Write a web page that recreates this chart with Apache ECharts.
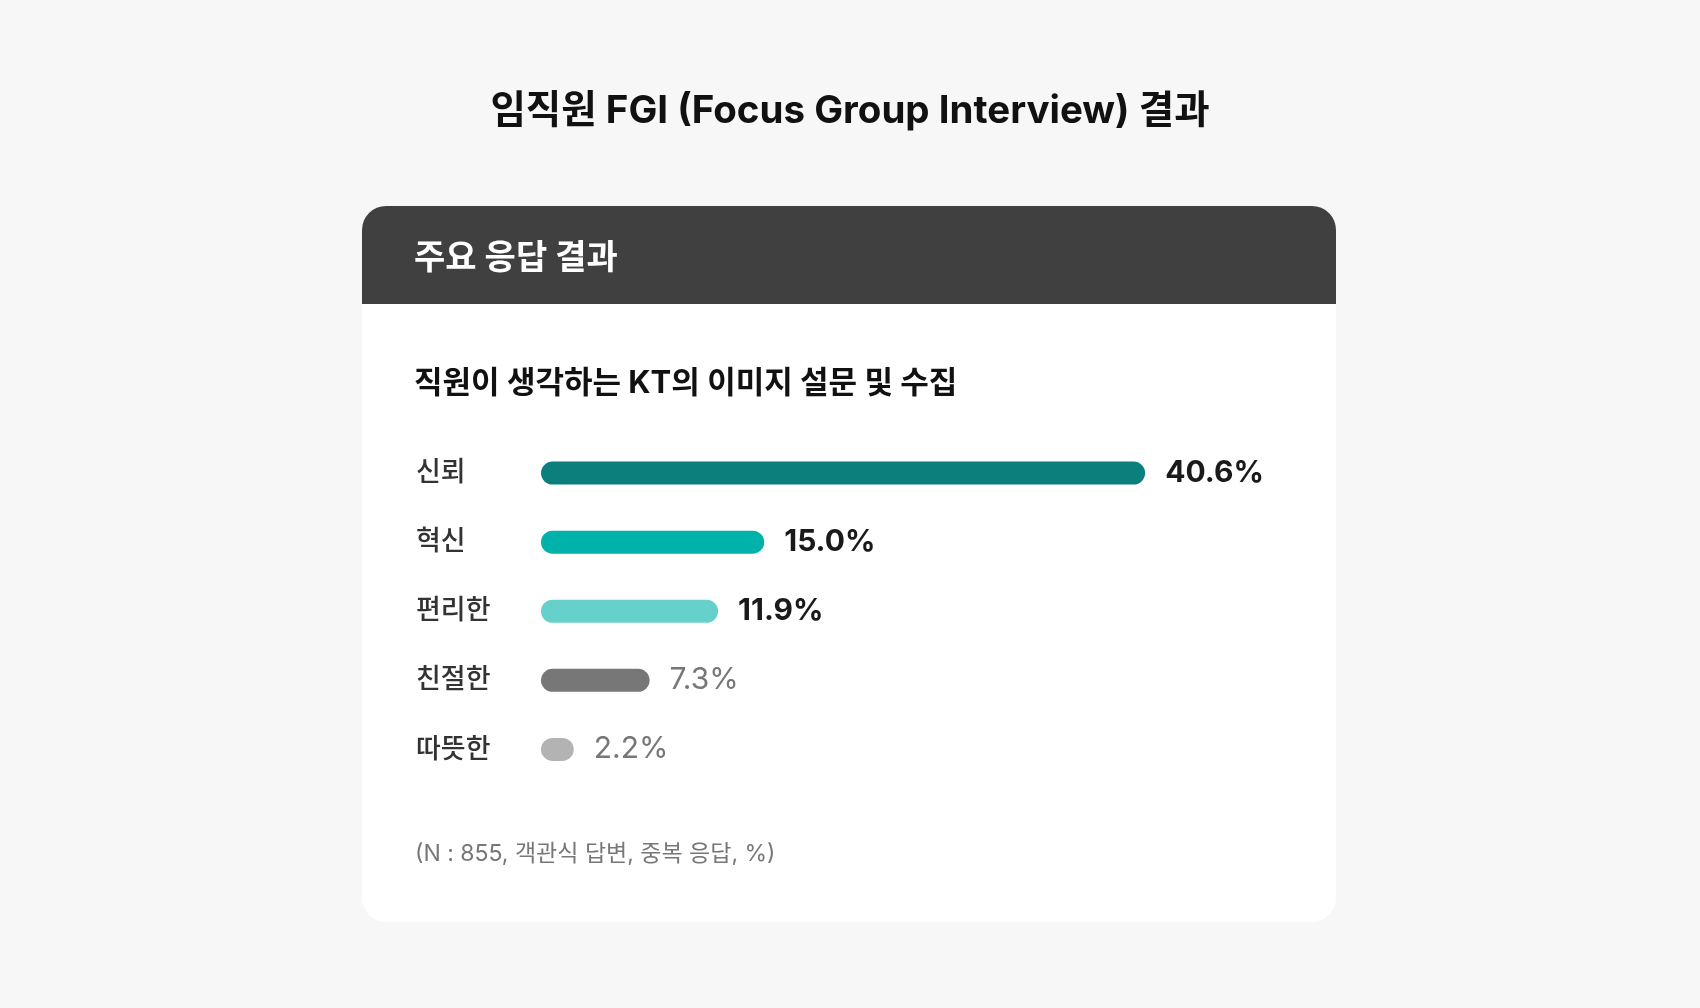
<!DOCTYPE html>
<html>
<head>
<meta charset="utf-8">
<script src="https://cdn.jsdelivr.net/npm/echarts@6/dist/echarts.min.js"></script>
<style>
html,body{margin:0;padding:0;background:#f7f7f7;}
#c{width:1700px;height:1008px;}
</style>
</head>
<body>
<div id="c"></div>
<script>
const titleText = '임직원 FGI (Focus Group Interview) 결과';
const headerText = '주요 응답 결과';
const subtitleText = '직원이 생각하는 KT의 이미지 설문 및 수집';
const footnoteText = '(N : 855, 객관식 답변, 중복 응답, %)';
const categories = ['신뢰', '혁신', '편리한', '친절한', '따뜻한'];
const values = [40.6, 15.0, 11.9, 7.3, 2.2];
const barColors = ['#0a7f7b', '#00b2a9', '#66d1cb', '#777777', '#b3b3b3'];
const labelBold = [true, true, true, false, false];

const FONT = "Inter, 'Noto Sans CJK KR', sans-serif";
const chart = echarts.init(document.getElementById('c'), null, {renderer: 'canvas'});

const data = values.map((v, i) => ({
  value: v,
  itemStyle: {color: barColors[i], borderRadius: 11.5},
  label: labelBold[i]
    ? {color: '#1a1a1a', fontWeight: 700}
    : {color: '#777777', fontWeight: 400}
}));

chart.setOption({
  backgroundColor: '#f7f7f7',
  animation: false,
  graphic: [
    {type: 'rect', z: 0, shape: {x: 362, y: 206, width: 974, height: 716, r: 24}, style: {fill: '#ffffff'}},
    {type: 'rect', z: 1, shape: {x: 362, y: 206, width: 974, height: 98, r: [24, 24, 0, 0]}, style: {fill: '#404040'}},
    {type: 'text', z: 2, x: 850, y: 111, style: {text: titleText, fill: '#111111', font: 'bold 38.5px ' + FONT, textAlign: 'center', textVerticalAlign: 'middle'}},
    {type: 'text', z: 2, x: 414, y: 259, style: {text: headerText, fill: '#ffffff', font: 'bold 34px ' + FONT, textAlign: 'left', textVerticalAlign: 'middle'}},
    {type: 'text', z: 2, x: 414, y: 384, style: {text: subtitleText, fill: '#111111', font: 'bold 31px ' + FONT, textAlign: 'left', textVerticalAlign: 'middle'}},
    {type: 'text', z: 2, x: 415, y: 854, style: {text: footnoteText, fill: '#777777', font: '23px ' + FONT, textAlign: 'left', textVerticalAlign: 'middle'}}
  ],
  grid: {left: 541, top: 438.5, width: 744, height: 345.5, containLabel: false},
  xAxis: {
    type: 'value', min: 0, max: 50, show: false
  },
  yAxis: {
    type: 'category',
    data: categories,
    inverse: true,
    axisLine: {show: false},
    axisTick: {show: false},
    splitLine: {show: false},
    axisLabel: {
      margin: 125,
      align: 'left',
      color: '#333333',
      fontSize: 27,
      fontWeight: 500,
      fontFamily: FONT
    }
  },
  series: [{
    type: 'bar',
    data: data,
    barWidth: 23,
    z: 3,
    label: {
      show: true,
      position: 'right',
      distance: 20,
      fontSize: 30,
      fontFamily: FONT,
      formatter: p => p.value.toFixed(1) + '%'
    }
  }]
});
</script>
</body>
</html>
